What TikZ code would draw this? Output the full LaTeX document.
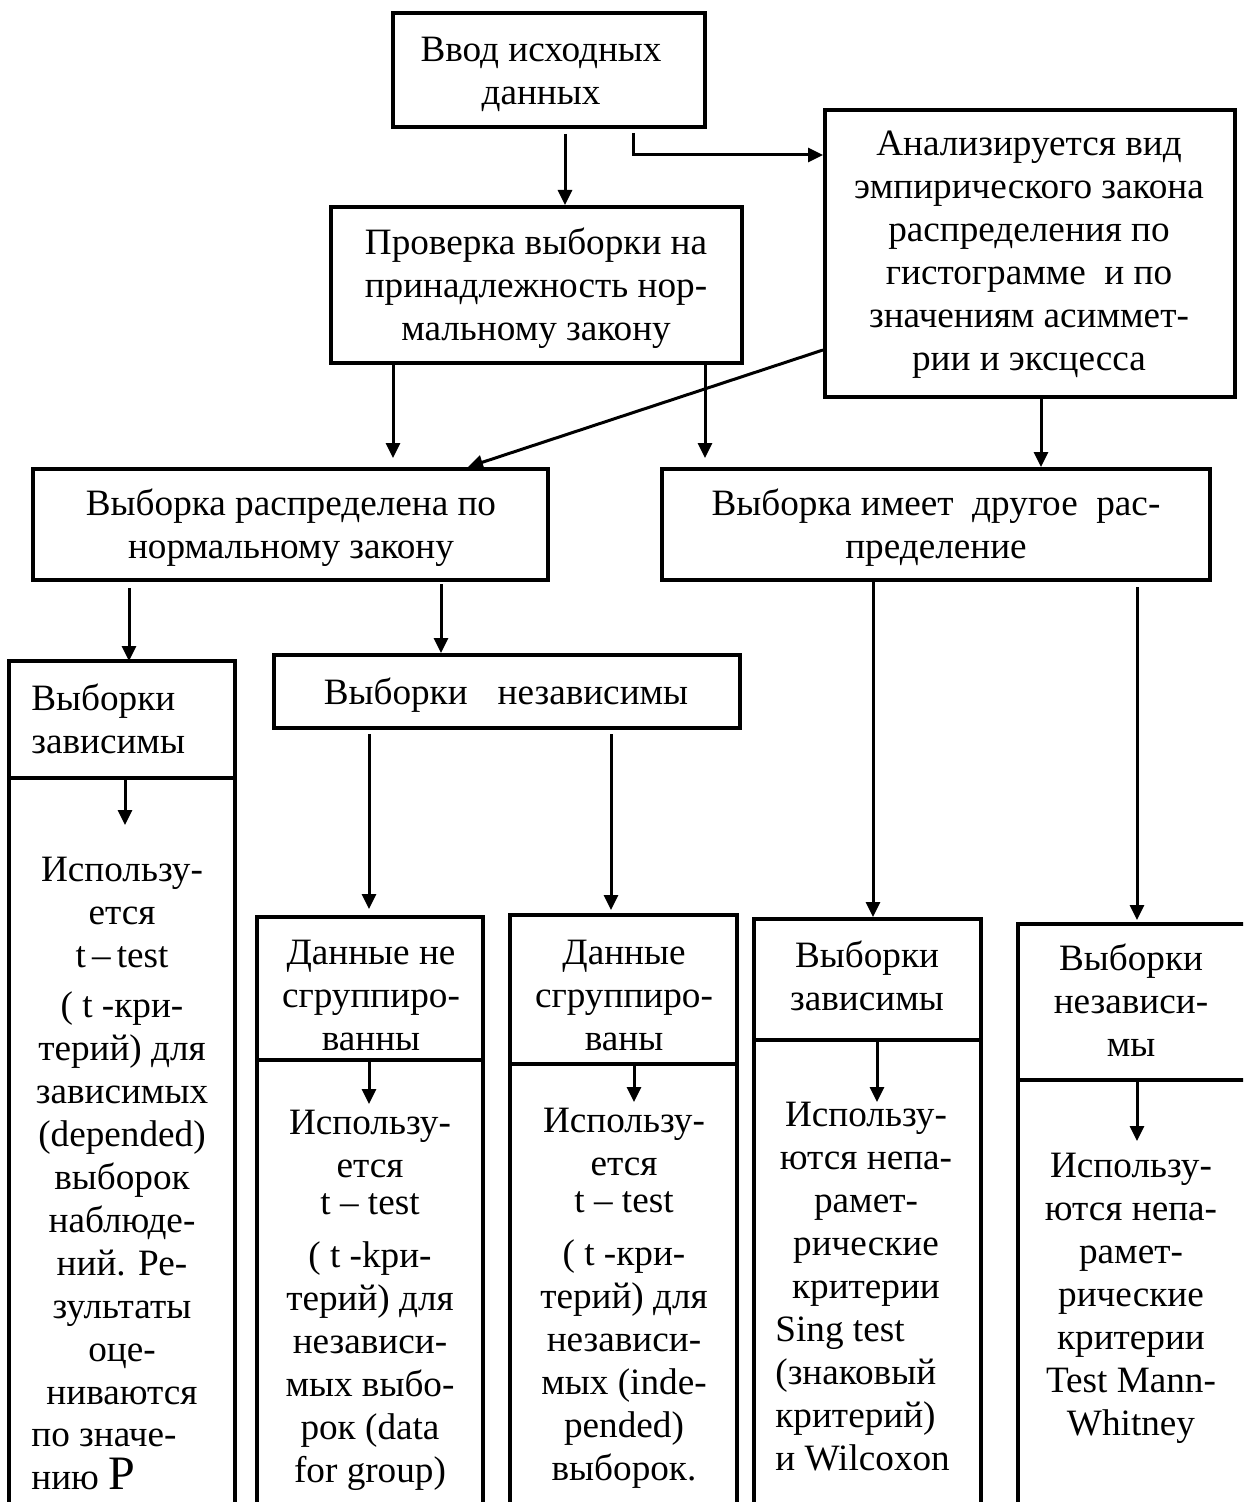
\documentclass[tikz,border=0pt]{standalone}
\usepackage{fontspec}
\setmainfont{Liberation Serif}
\usetikzlibrary{arrows.meta,fit}
\newcommand\fs{\fontsize{18.6}{21.5}\selectfont}
\begin{document}
\begin{tikzpicture}[x=0.5pt,y=-0.5pt,
  box/.style={draw, line width=2pt, inner sep=0pt},
  colbox/.style={line width=2pt, inner sep=0pt, outer sep=0pt},
  edge/.style={line width=2pt},
  arr/.style={line width=1.5pt, -{Triangle[length=7.5pt,width=7pt]}},
  txt/.style={font=\fs, align=center, inner sep=0pt},
  ltxt/.style={font=\fs, align=left, inner sep=0pt, anchor=west},
]
\useasboundingbox (0,0) rectangle (1243,1502);
\fill[white] (0,0) rectangle (1243,1502);
\clip (0,0) rectangle (1243,1502);

% closed boxes
\node[box, fit={(393,13) (705,127)}] (A) {};
\node[box, fit={(331,207) (742,363)}] (B) {};
\node[box, fit={(825,110) (1235,397)}] (C) {};
\node[box, fit={(33,469) (548,580)}] (D) {};
\node[box, fit={(662,469) (1210,580)}] (E) {};
\node[box, fit={(274,655) (740,728)}] (G) {};

% open-bottom columns with a dividing line
\node[colbox, fit={(9,661) (235,1530)}] (F) {};
\node[colbox, fit={(257,917) (483,1530)}] (H) {};
\node[colbox, fit={(510,915) (737,1530)}] (I) {};
\node[colbox, fit={(754,919) (981,1530)}] (J) {};
\node[colbox, fit={(1018,924) (1246,1530)}] (K) {};
\foreach \c in {F,H,I,J,K}
  \draw[edge] (\c.south west) |- (\c.north east) -- (\c.south east);

\coordinate (Fsep) at (0,778);
\coordinate (Hsep) at (0,1060);
\coordinate (Isep) at (0,1064);
\coordinate (Jsep) at (0,1040);
\coordinate (Ksep) at (0,1080);
\foreach \c in {F,H,I,J,K}
  \draw[edge] (\c.west |- \c sep) -- (\c.east |- \c sep);

% texts
\node[txt] (tA) at (541,74) {Ввод исходных\\данных};
\node[txt] (tB) at (536,288) {Проверка выборки на\\принадлежность нор-\\мальному закону};
\node[txt] (tC) at (1029,255) {Анализируется вид\\эмпирического закона\\распределения по\\гистограмме\ \ и по\\значениям асиммет-\\рии и эксцесса};
\node[txt] (tD) at (291,528) {Выборка распределена по\\нормальному закону};
\node[txt] (tE) at (936,528) {Выборка имеет\ \ другое\ \ рас-\\пределение};
\node[txt] (tG) at (506,695) {Выборки\hspace{15pt}независимы};

\node[ltxt] (tF1) at (31,719) {Выборки\\зависимы};
\node[txt] (tF2) at (122,1131) {Использу-\\ется\\t\,–\,test\\[3.5pt]( t -кри-\\терий) для\\зависимых\\(depended)\\выборок\\наблюде-\\ний. Ре-\\зультаты\\оце-\\ниваются};
\node[ltxt] (tF3) at (31,1459) {по значе-\\нию {\fontsize{24}{24}\selectfont P}};

\node[txt] (tH1) at (371,995) {Данные не\\сгруппиро-\\ванны};
\node[txt] (tH2) at (370,1300) {Использу-\\ется\\[-3pt]t – test\\[5pt]( t -kри-\\терий) для\\независи-\\мых выбо-\\рок (data\\for group)};

\node[txt] (tI1) at (624,995) {Данные\\сгруппиро-\\ваны};
\node[txt] (tI2) at (624,1298) {Использу-\\ется\\[-3pt]t – test\\[5pt]( t -кри-\\терий) для\\независи-\\мых (inde-\\pended)\\выборок.};

\node[txt] (tJ1) at (867,976) {Выборки\\зависимы};
\node[txt] (tJ2) at (866,1204) {Использу-\\ются непа-\\рамет-\\рические\\критерии};
\node[ltxt] (tJ3) at (775,1394) {Sing test\\(знаковый\\критерий)\\и Wilcoxon};

\node[txt] (tK1) at (1131,1000) {Выборки\\независи-\\мы};
\node[txt] (tK2) at (1131,1298) {Использу-\\ются непа-\\рамет-\\рические\\критерии\\Test Mann-\\Whitney};

% connectors between boxes
\draw[arr, shorten <=2.5pt] (A.south -| 565,0) -- (B.north -| 565,0);
\draw[arr, shorten <=2pt] (A.south -| 633,0) |- (C.west |- 0,155);
\draw[arr, shorten >=4.5pt] (B.south -| 393,0) -- (D.north -| 393,0);
\draw[arr, shorten >=4.5pt] (B.south -| 705,0) -- (E.north -| 705,0);
\draw[arr] (C.west |- 0,350) -- (D.north -| 468,0);
\draw[arr] (C.south -| 1041,0) -- (E.north -| 1041,0);
\draw[arr, shorten <=3pt] (D.south -| 129,0) -- (F.north -| 129,0);
\draw[arr, shorten <=1pt] (D.south -| 441,0) -- (G.north -| 441,0);
\draw[arr, shorten <=2pt, shorten >=4pt] (G.south -| 369,0) -- (H.north -| 369,0);
\draw[arr, shorten <=2pt, shorten >=2.5pt] (G.south -| 611,0) -- (I.north -| 611,0);
\draw[arr, shorten >=1pt] (E.south -| 873,0) -- (J.north -| 873,0);
\draw[arr, shorten <=2.5pt, shorten >=2pt] (E.south -| 1137,0) -- (K.north -| 1137,0);

% arrows inside the columns
\coordinate (Fin) at (125,825);
\coordinate (Hin) at (369,1104);
\coordinate (Iin) at (634,1102);
\coordinate (Jin) at (877,1102);
\coordinate (Kin) at (1137,1141);
\foreach \c in {F,H,I,J,K}
  \draw[arr] (\c sep -| \c in) -- (\c in);
\end{tikzpicture}
\end{document}
